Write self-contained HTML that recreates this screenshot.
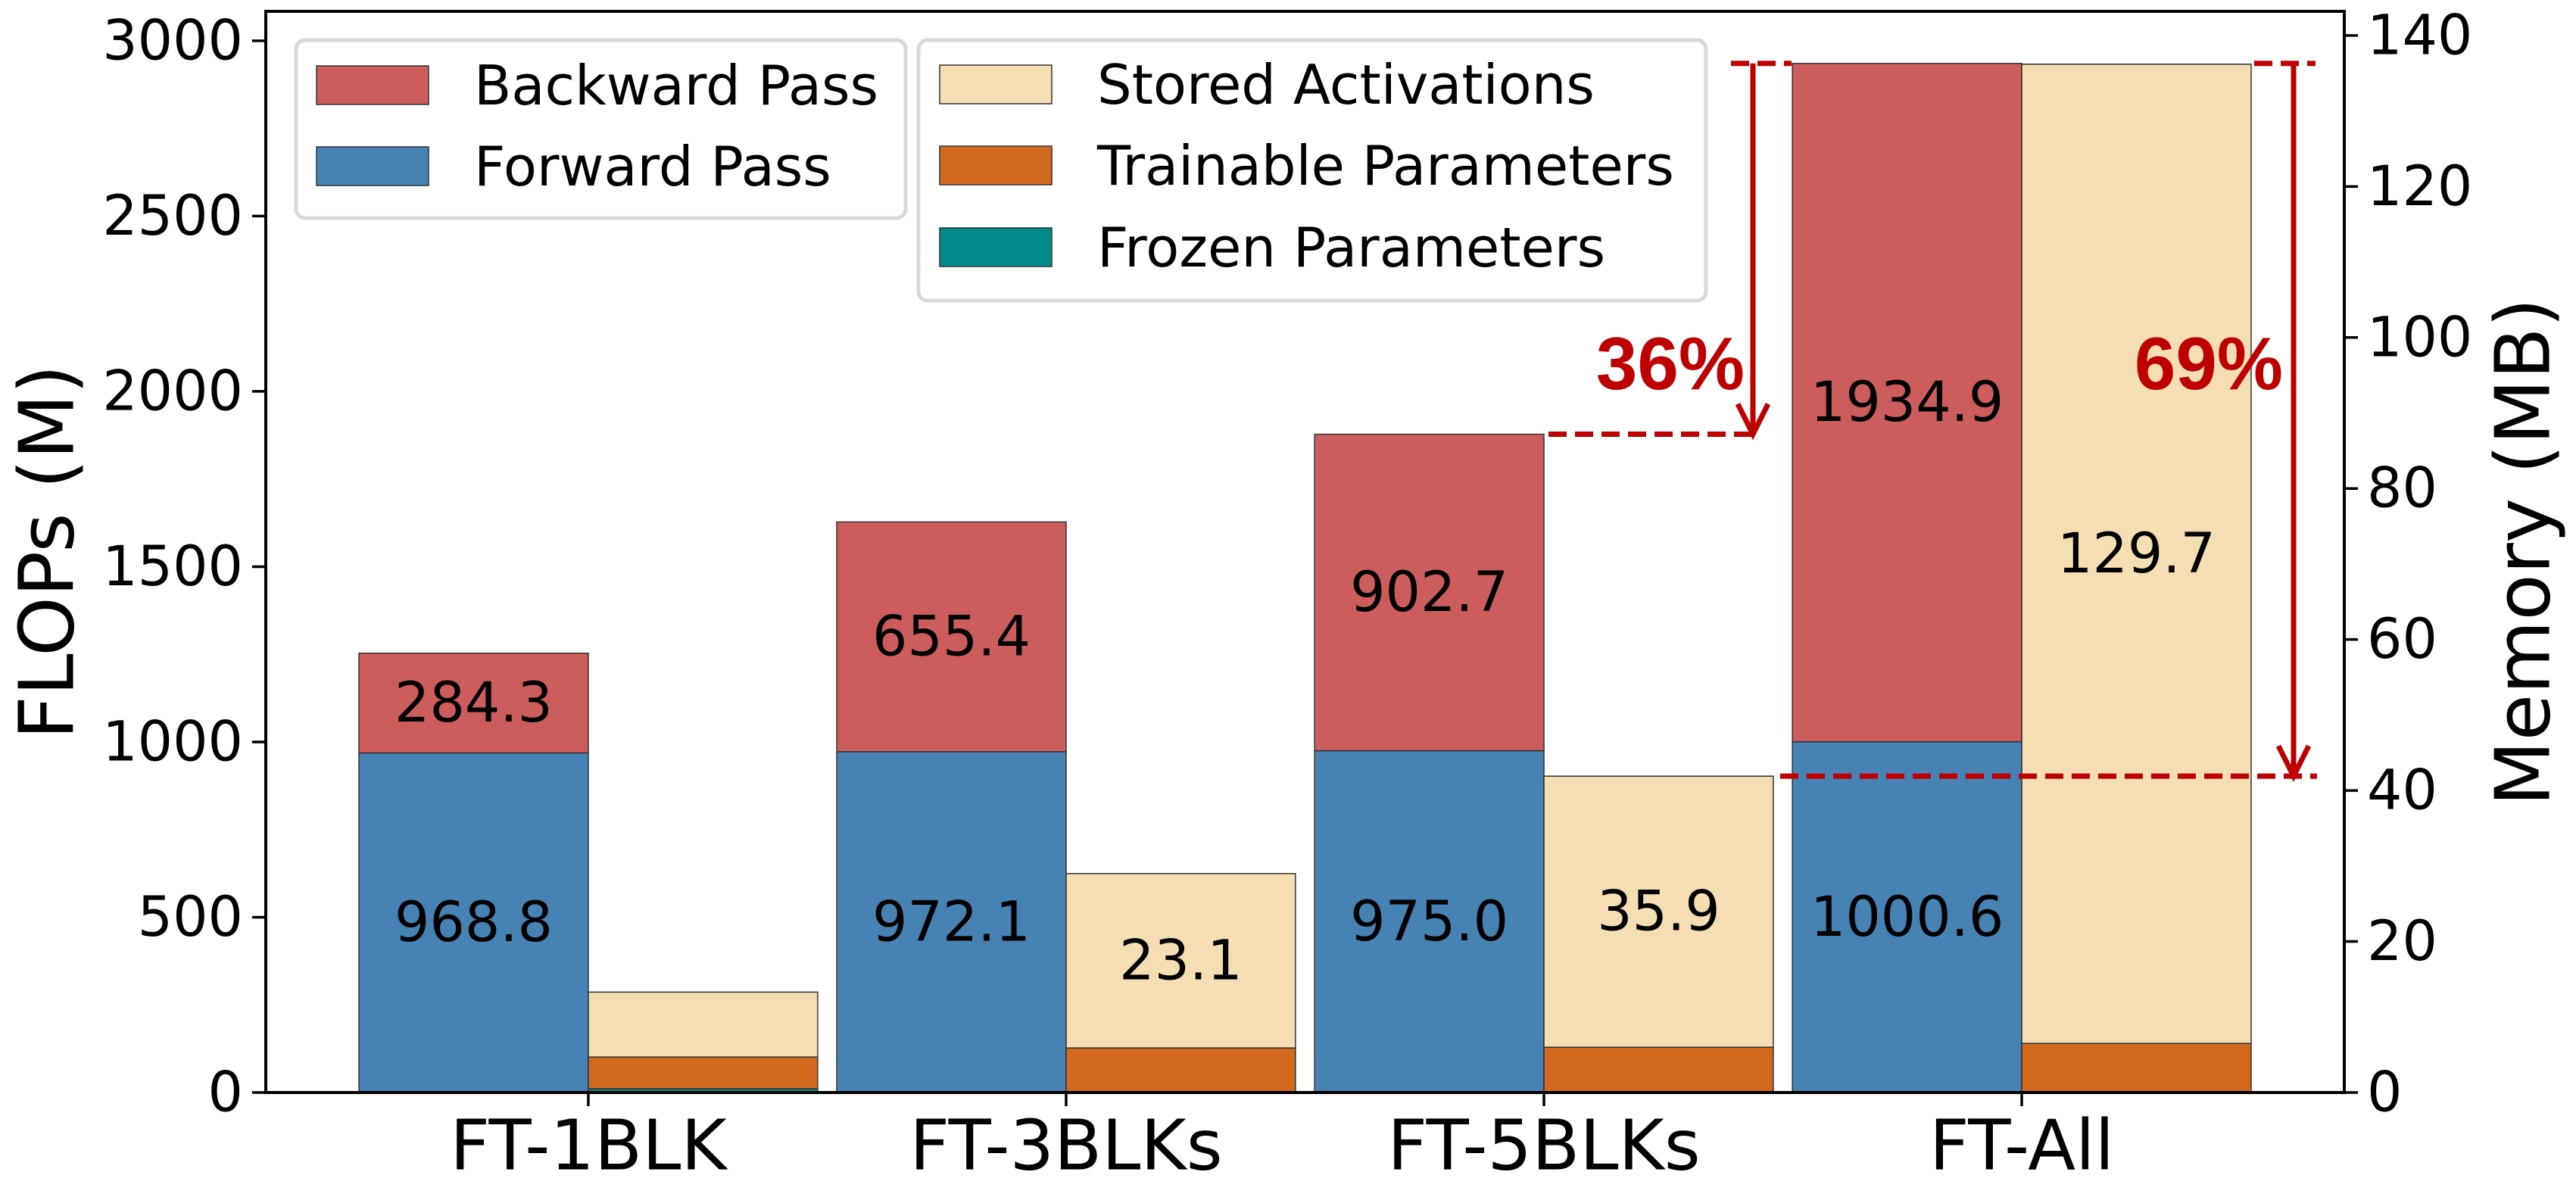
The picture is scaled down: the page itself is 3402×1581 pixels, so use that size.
<!DOCTYPE html>
<html><head><meta charset="utf-8"><style>
html,body{margin:0;padding:0;background:#fff;}
svg{display:block;font-family:"DejaVu Sans","Liberation Sans",sans-serif;}
</style></head><body>
<svg id="chart" width="3402" height="1581" viewBox="0 0 3402 1581" xmlns="http://www.w3.org/2000/svg">
<g id="bars"></g>
<g id="axes"></g>
<g id="annot"></g>
<g id="legend"></g>
</svg>
<script>
const categories = ["FT-1BLK","FT-3BLKs","FT-5BLKs","FT-All"];
const forwardFlops = [968.8, 972.1, 975.0, 1000.6];
const backwardFlops = [284.3, 655.4, 902.7, 1934.9];
const frozenMem = [0.5, 0.0, 0.0, 0.0];
const trainableMem = [4.2, 5.9, 6.0, 6.5];
const activationMem = [8.6, 23.1, 35.9, 129.7];
const activationLabels = ["", "23.1", "35.9", "129.7"];
const leftTicks = [0, 500, 1000, 1500, 2000, 2500, 3000];
const rightTicks = [0, 20, 40, 60, 80, 100, 120, 140];

const NS = "http://www.w3.org/2000/svg";
const L = 351, R = 3096, T = 15, B = 1443;
const xMin = -0.675, xMax = 3.675;
const yLMax = 3084, yRMax = 143.2;
const xS = v => L + (v - xMin) / (xMax - xMin) * (R - L);
const yL = v => B - v / yLMax * (B - T);
const yR = v => B - v / yRMax * (B - T);
const W = 0.48;
const C = {red:"#CD5C5C", blue:"#4682B4", wheat:"#F5DEB3", orange:"#D2691E", teal:"#008B8B", ann:"#BF0000"};

function mk(tag, attrs, parent, text) {
  const e = document.createElementNS(NS, tag);
  for (const k in attrs) e.setAttribute(k, attrs[k]);
  if (text !== undefined) e.textContent = text;
  parent.appendChild(e);
  return e;
}
const gB = document.getElementById("bars"), gA = document.getElementById("axes"),
      gN = document.getElementById("annot"), gL = document.getElementById("legend");

function rect(x0, x1, y0, y1, fill, name) {
  const r = mk("rect", {x:x0, y:Math.min(y0,y1), width:x1-x0, height:Math.abs(y1-y0), fill:fill, stroke:"#333", "stroke-width":1.5}, gB);
  
  
}
function label(x, y, txt, name) {
  const t = mk("text", {x:x, y:y, "font-size":73, "text-anchor":"middle", "dominant-baseline":"central", fill:"#000"}, gB, txt);
  
  
}

categories.forEach((c, i) => {
  const xl = xS(i - W), xc = xS(i), xr = xS(i + W);
  rect(xl, xc, yL(0), yL(forwardFlops[i]), C.blue, "forward-bar-" + i);
  rect(xl, xc, yL(forwardFlops[i]), yL(forwardFlops[i] + backwardFlops[i]), C.red, "backward-bar-" + i);
  label((xl+xc)/2, yL(forwardFlops[i]/2), forwardFlops[i].toFixed(1), "forward-value-" + i);
  label((xl+xc)/2, yL(forwardFlops[i] + backwardFlops[i]/2), backwardFlops[i].toFixed(1), "backward-value-" + i);
  let base = 0;
  if (frozenMem[i] > 0) rect(xc, xr, yR(0), yR(frozenMem[i]), C.teal, "frozen-bar-" + i);
  base += frozenMem[i];
  rect(xc, xr, yR(base), yR(base + trainableMem[i]), C.orange, "trainable-bar-" + i);
  base += trainableMem[i];
  rect(xc, xr, yR(base), yR(base + activationMem[i]), C.wheat, "activation-bar-" + i);
  if (activationLabels[i]) label((xc+xr)/2, yR(base + activationMem[i]/2), activationLabels[i], "activation-value-" + i);
});

const frame = mk("rect", {x:L, y:T, width:R-L, height:B-T, fill:"none", stroke:"#000", "stroke-width":4}, gA);


leftTicks.forEach(v => {
  const y = yL(v);
  mk("line", {x1:L-18, x2:L, y1:y, y2:y, stroke:"#000", "stroke-width":3.5}, gA);
  const t = mk("text", {x:L-30, y:y, "font-size":73, "text-anchor":"end", "dominant-baseline":"central"}, gA, String(v));
  
  
});
rightTicks.forEach(v => {
  const y = yR(v);
  mk("line", {x1:R, x2:R+18, y1:y, y2:y, stroke:"#000", "stroke-width":3.5}, gA);
  const t = mk("text", {x:R+30, y:y, "font-size":73, "text-anchor":"start", "dominant-baseline":"central"}, gA, String(v));
  
  
});
categories.forEach((c, i) => {
  const x = xS(i);
  mk("line", {x1:x, x2:x, y1:B, y2:B+18, stroke:"#000", "stroke-width":3.5}, gA);
  const t = mk("text", {x:x, y:1513, "font-size":92, "text-anchor":"middle", "dominant-baseline":"central"}, gA, c);
  
  
});
const yt = mk("text", {x:0, y:0, "font-size":100, "text-anchor":"middle", "dominant-baseline":"central", transform:"translate(62,729) rotate(-90)"}, gA, "FLOPs (M)");


const yt2 = mk("text", {x:0, y:0, "font-size":100, "text-anchor":"middle", "dominant-baseline":"central", transform:"translate(3332,729) rotate(-90)"}, gA, "Memory (MB)");



const topY = yL(forwardFlops[3] + backwardFlops[3]);
const t5 = yL(forwardFlops[2] + backwardFlops[2]);
const m5 = yR(frozenMem[2] + trainableMem[2] + activationMem[2]);
const dash = {stroke:C.ann, "stroke-width":7, "stroke-dasharray":"24,11", fill:"none"};
mk("line", Object.assign({x1:xS(2)+6, x2:2320, y1:t5, y2:t5}, dash), gN);
mk("line", Object.assign({x1:2286, x2:2366, y1:topY, y2:topY}, dash), gN);
mk("line", Object.assign({x1:2351, x2:3060, y1:m5, y2:m5}, dash), gN);
mk("line", Object.assign({x1:2977, x2:3058, y1:topY, y2:topY}, dash), gN);
function arrow(x, y0, y1, name) {
  const g = mk("g", {}, gN);
  
  
  mk("line", {x1:x, x2:x, y1:y0, y2:y1-4, stroke:C.ann, "stroke-width":7}, g);
  mk("polyline", {points:(x-20)+","+(y1-40)+" "+x+","+y1+" "+(x+20)+","+(y1-40), stroke:C.ann, "stroke-width":7, fill:"none"}, g);
}
arrow(2315, topY, t5, "flops-reduction-arrow");
arrow(3029, topY, m5, "memory-reduction-arrow");
const p1 = mk("text", {x:2206, y:480, "font-size":98, "font-weight":"bold", "text-anchor":"middle", "dominant-baseline":"central", fill:C.ann, "font-family":"Liberation Sans, sans-serif"}, gN, "36%");


const p2 = mk("text", {x:2917, y:480, "font-size":98, "font-weight":"bold", "text-anchor":"middle", "dominant-baseline":"central", fill:C.ann, "font-family":"Liberation Sans, sans-serif"}, gN, "69%");



function legendBox(x, y, w, h, name) {
  const r = mk("rect", {x:x, y:y, width:w, height:h, rx:12, fill:"#fff", "fill-opacity":0.85, stroke:"#d8d8d8", "stroke-width":5}, gL);
  
  
}
function entry(px, py, fill, tx, txt, name) {
  const g = mk("g", {}, gL);
  
  
  mk("rect", {x:px, y:py, width:148, height:51, fill:fill, stroke:"#333", "stroke-width":1.5}, g);
  mk("text", {x:tx, y:py+26, "font-size":72, "dominant-baseline":"central"}, g, txt);
}
legendBox(391, 53, 805, 235, "flops-legend");
entry(418, 87, C.red, 626, "Backward Pass", "legend-backward-pass");
entry(418, 194, C.blue, 626, "Forward Pass", "legend-forward-pass");
legendBox(1213, 53, 1040, 344, "memory-legend");
entry(1241, 86, C.wheat, 1449, "Stored Activations", "legend-stored-activations");
entry(1241, 193, C.orange, 1449, "Trainable Parameters", "legend-trainable-parameters");
entry(1241, 301, C.teal, 1449, "Frozen Parameters", "legend-frozen-parameters");
</script>
</body></html>
